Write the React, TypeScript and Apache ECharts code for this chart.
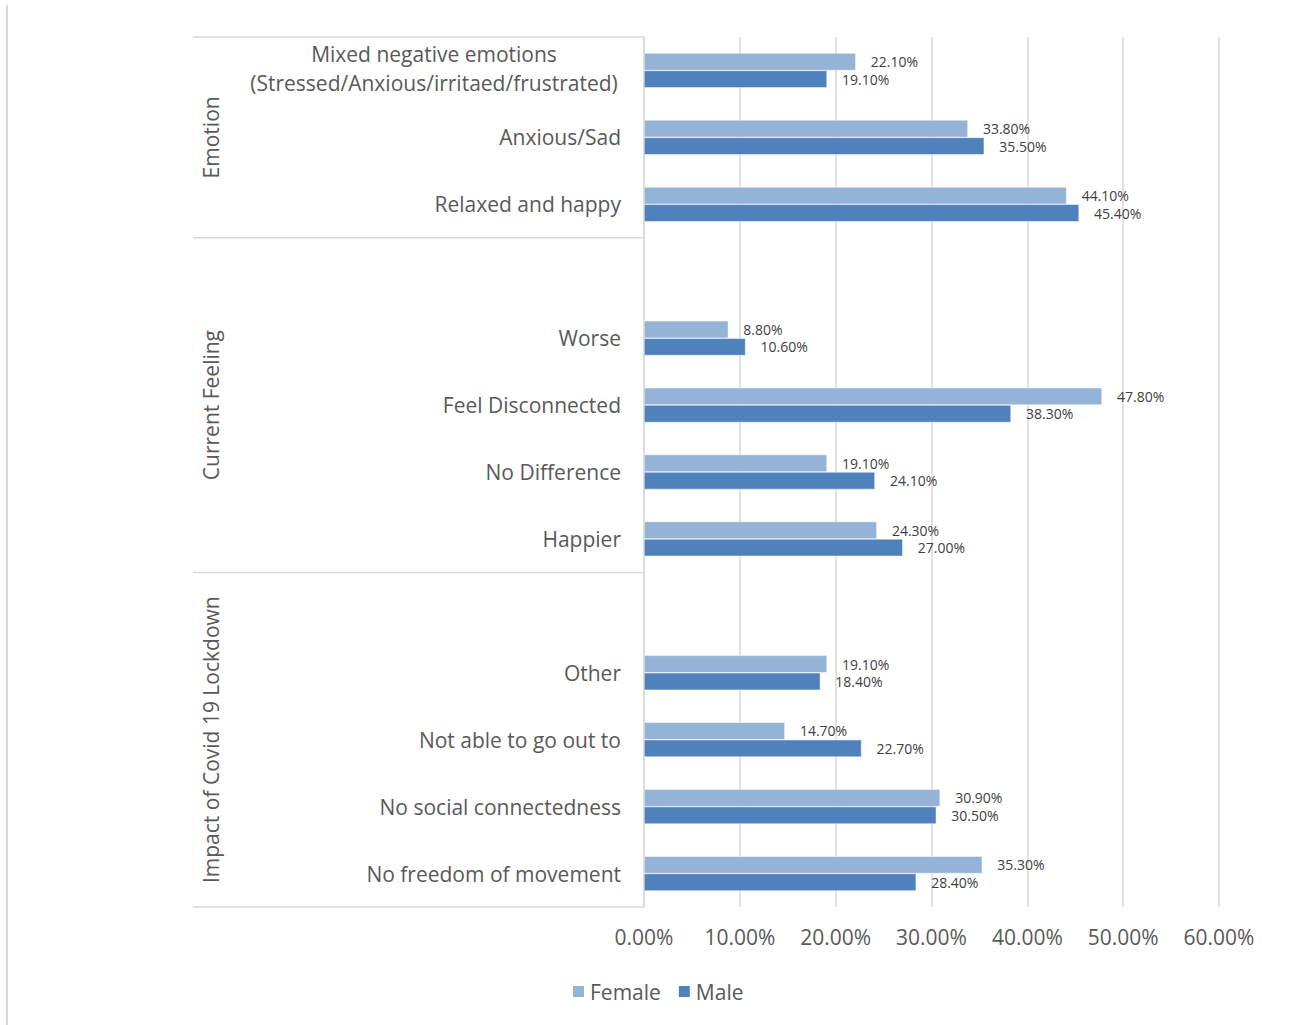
import React, { useEffect, useRef } from "react";
import * as echarts from "echarts";

const categories = [
  "Mixed negative emotions\n(Stressed/Anxious/irritaed/frustrated)",
  "Anxious/Sad",
  "Relaxed and happy",
  "",
  "Worse",
  "Feel Disconnected",
  "No Difference",
  "Happier",
  "",
  "Other",
  "Not able to go out to",
  "No social connectedness",
  "No freedom of movement",
];
const female = [0.221, 0.338, 0.441, null, 0.088, 0.478, 0.191, 0.243, null, 0.191, 0.147, 0.309, 0.353];
const male = [0.191, 0.355, 0.454, null, 0.106, 0.383, 0.241, 0.27, null, 0.184, 0.227, 0.305, 0.284];
const groups = [
  { name: "Emotion", start: 0, end: 2 },
  { name: "Current Feeling", start: 3, end: 7 },
  { name: "Impact of Covid 19 Lockdown", start: 8, end: 12 },
];
const xTicks = { min: 0, max: 0.6, interval: 0.1 };

const FONT = "Open Sans";
const TXT = "#595959";
const GRID = "#d9d9d9";
const FS = 21;

export default function App() {
  const ref = useRef<HTMLDivElement>(null);
  useEffect(() => {
    const chart = echarts.init(ref.current!, null, { renderer: "svg" });
    const pct = (v: number) => (v * 100).toFixed(2) + "%";
    const option: any = {
      animation: false,
      textStyle: { fontFamily: FONT },
      grid: { left: 644, right: 81, top: 37, bottom: 118 },
      legend: {
        data: ["Female", "Male"],
        left: 566,
        top: 976,
        icon: "rect",
        itemWidth: 13,
        itemHeight: 13,
        itemGap: 16,
        textStyle: { fontSize: FS, color: TXT, fontFamily: FONT },
      },
      xAxis: {
        type: "value",
        min: xTicks.min,
        max: xTicks.max,
        interval: xTicks.interval,
        axisLine: { show: false },
        axisTick: { show: false },
        splitLine: { lineStyle: { color: GRID, width: 1.5 } },
        axisLabel: {
          formatter: (v: number) => pct(v),
          fontSize: FS,
          color: TXT,
          margin: 19,
          fontFamily: FONT,
        },
      },
      yAxis: {
        type: "category",
        inverse: true,
        data: categories,
        axisLine: { show: true, lineStyle: { color: GRID, width: 1.5 } },
        axisTick: { show: false },
        axisLabel: {
          margin: 23,
          fontSize: FS,
          color: TXT,
          fontFamily: FONT,
          formatter: (v: string) => {
            if (v.indexOf("\n") >= 0) {
              return v
                .split("\n")
                .map((s) => "{c|" + s + "}")
                .join("\n");
            }
            return v;
          },
          rich: {
            c: {
              width: 374,
              align: "center",
              fontSize: FS,
              lineHeight: 29,
              color: TXT,
              fontFamily: FONT,
              padding: [0, 0, 4, 0],
            },
          },
        },
      },
      series: [
        {
          name: "Female",
          type: "bar",
          data: female,
          barGap: "0%",
          barCategoryGap: "48%",
          itemStyle: { color: "#95B3D7", borderColor: "#ffffff", borderWidth: 0.5 },
          label: {
            show: true,
            position: "right",
            distance: 15,
            formatter: (p: any) => pct(p.value),
            fontSize: 14,
            color: "#404040",
            fontFamily: FONT,
          },
        },
        {
          name: "Male",
          type: "bar",
          data: male,
          barGap: "0%",
          barCategoryGap: "48%",
          itemStyle: { color: "#4F81BD", borderColor: "#ffffff", borderWidth: 0.5 },
          label: {
            show: true,
            position: "right",
            distance: 15,
            formatter: (p: any) => pct(p.value),
            fontSize: 14,
            color: "#404040",
            fontFamily: FONT,
          },
        },
      ],
    };
    chart.setOption(option);

    const c0 = chart.convertToPixel({ yAxisIndex: 0 }, 0) as number;
    const c1 = chart.convertToPixel({ yAxisIndex: 0 }, 1) as number;
    const band = c1 - c0;
    const x0 = chart.convertToPixel({ xAxisIndex: 0 }, 0) as number;
    const leftX = 193;
    const elements: any[] = [];
    const boundaries: number[] = [];
    groups.forEach((g, i) => {
      const top = (chart.convertToPixel({ yAxisIndex: 0 }, g.start) as number) - band / 2;
      const bot = (chart.convertToPixel({ yAxisIndex: 0 }, g.end) as number) + band / 2;
      if (i === 0) boundaries.push(top);
      boundaries.push(bot);
      elements.push({
        type: "text",
        x: 211,
        y: (top + bot) / 2,
        rotation: Math.PI / 2,
        style: {
          text: g.name,
          fontSize: FS,
          fill: TXT,
          fontFamily: FONT,
          align: "center",
          verticalAlign: "middle",
        },
      });
    });
    boundaries.forEach((y) => {
      elements.push({
        type: "line",
        shape: { x1: leftX, y1: y, x2: x0, y2: y },
        style: { stroke: GRID, lineWidth: 1.5 },
      });
    });
    elements.push({
      type: "line",
      shape: { x1: 7, y1: 5, x2: 7, y2: 1025 },
      style: { stroke: GRID, lineWidth: 2 },
    });
    chart.setOption({ graphic: { elements } });

    return () => chart.dispose();
  }, []);
  return (
    <div
      ref={ref}
      style={{ position: "fixed", left: 0, top: 0, width: 1300, height: 1025, background: "#fff" }}
    />
  );
}
